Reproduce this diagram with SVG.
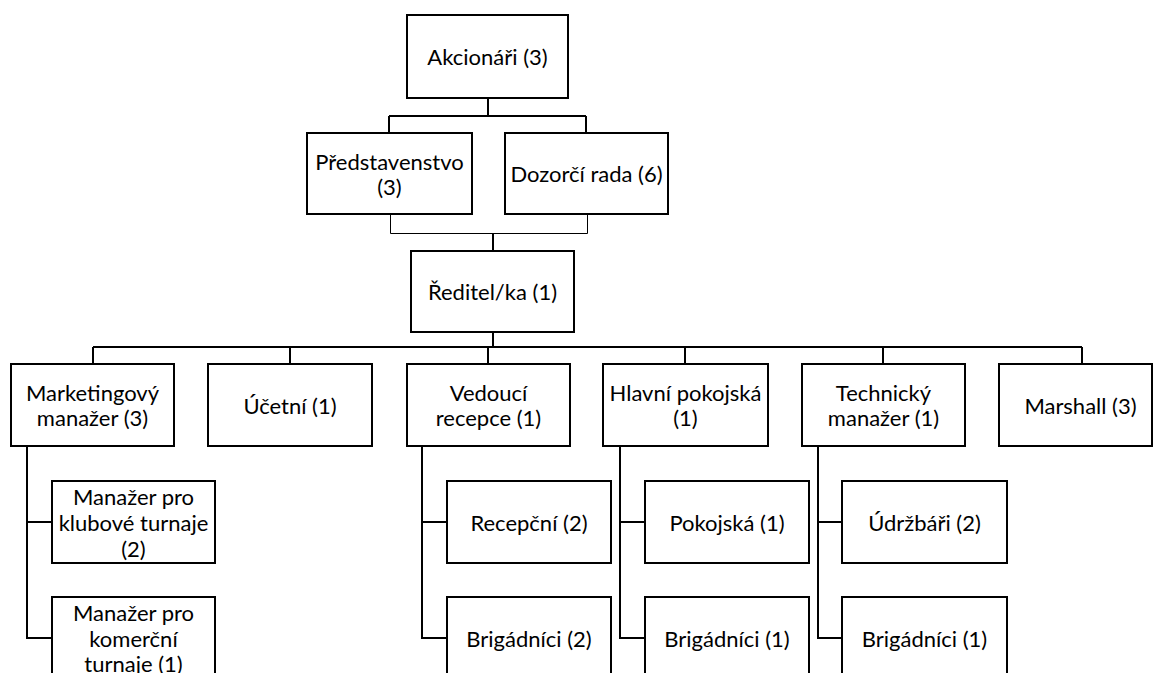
<svg xmlns="http://www.w3.org/2000/svg" width="1153" height="673" viewBox="0 0 1153 673">
<style>
rect.box{fill:#fff;stroke:#000;stroke-width:2}
.c{fill:none;stroke:#000;stroke-width:2}
.t{fill:none;stroke:#000;stroke-width:1}
text{font-family:Lato,"Open Sans","Liberation Sans",sans-serif;font-size:22px;fill:#000;text-anchor:middle;dominant-baseline:central}
</style>
<rect width="1153" height="673" fill="#fff"/>
<g id="connectors">
<path class="c" d="M488 98V116M389 116H586M389 116V133M586 116V133"/>
<path class="t" d="M390.5 214V233.5H587.5V214"/>
<path class="c" d="M493 233V251M493 332V347M93 347H1082M93 347V364M290 347V364M488 347V364M685 347V364M883 347V364M1082 347V364"/>
<path class="c" d="M27 446V638H52M27 522H52M422 446V638H447M422 522H447M620 446V638H645M620 522H645M818 446V638H842M818 522H842"/>
</g>
<g id="akcionari"><rect class="box" x="407" y="15" width="161" height="83"/><text x="487.5" y="56.5">Akcionáři (3)</text></g>
<g id="predstavenstvo"><rect class="box" x="307" y="133" width="165" height="81"/><text x="389.5" y="161">Představenstvo</text><text x="389.5" y="186">(3)</text></g>
<g id="dozorci"><rect class="box" x="505" y="133" width="163" height="81"/><text x="586.5" y="173.5">Dozorčí rada (6)</text></g>
<g id="reditel"><rect class="box" x="411" y="251" width="163" height="81"/><text x="492.5" y="291.5">Ředitel/ka (1)</text></g>
<g id="marketing"><rect class="box" x="11" y="364" width="163" height="82"/><text x="92.5" y="392.5">Marketingový</text><text x="92.5" y="417.5">manažer (3)</text></g>
<g id="ucetni"><rect class="box" x="208" y="364" width="164" height="82"/><text x="290" y="405">Účetní (1)</text></g>
<g id="vedouci"><rect class="box" x="407" y="364" width="163" height="82"/><text x="488.5" y="392.5">Vedoucí</text><text x="488.5" y="417.5">recepce (1)</text></g>
<g id="hlavni"><rect class="box" x="603" y="364" width="165" height="82"/><text x="685.5" y="392.5">Hlavní pokojská</text><text x="685.5" y="417.5">(1)</text></g>
<g id="technicky"><rect class="box" x="802" y="364" width="163" height="82"/><text x="883.5" y="392.5">Technický</text><text x="883.5" y="417.5">manažer (1)</text></g>
<g id="marshall"><rect class="box" x="999" y="364" width="153" height="82"/><text x="1080.5" y="405">Marshall (3)</text></g>
<g id="klubove"><rect class="box" x="52" y="481" width="163" height="82"/><text x="133.5" y="496">Manažer pro</text><text x="133.5" y="522">klubové turnaje</text><text x="133.5" y="548">(2)</text></g>
<g id="komercni"><rect class="box" x="52" y="597" width="163" height="84"/><text x="133.5" y="612">Manažer pro</text><text x="133.5" y="638">komerční</text><text x="133.5" y="663">turnaje (1)</text></g>
<g id="recepcni"><rect class="box" x="447" y="481" width="164" height="82"/><text x="529" y="522">Recepční (2)</text></g>
<g id="brig1"><rect class="box" x="447" y="597" width="164" height="84"/><text x="529" y="638">Brigádníci (2)</text></g>
<g id="pokojska"><rect class="box" x="645" y="481" width="164" height="82"/><text x="727" y="522">Pokojská (1)</text></g>
<g id="brig2"><rect class="box" x="645" y="597" width="164" height="84"/><text x="727" y="638">Brigádníci (1)</text></g>
<g id="udrzbari"><rect class="box" x="842" y="481" width="165" height="82"/><text x="924.5" y="522">Údržbáři (2)</text></g>
<g id="brig3"><rect class="box" x="842" y="597" width="165" height="84"/><text x="924.5" y="638">Brigádníci (1)</text></g>
</svg>
